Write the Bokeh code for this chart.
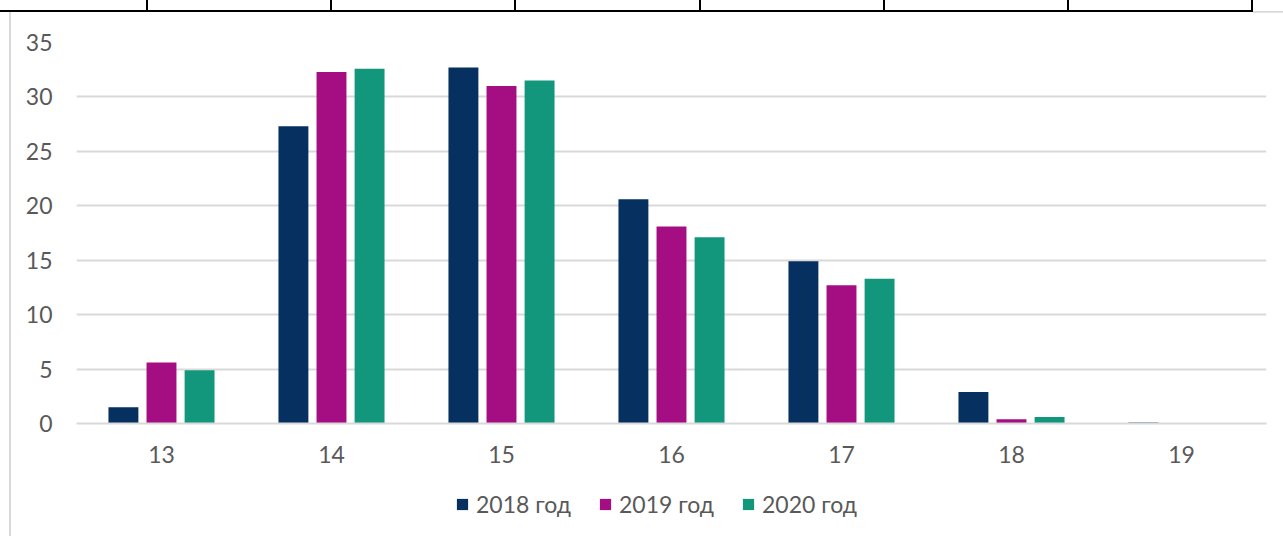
from bokeh.plotting import figure
from bokeh.models import FactorRange, Legend, LegendItem, ColumnDataSource, Div, Range1d
from bokeh.layouts import column, row
from bokeh.transform import dodge
from bokeh.embed import file_html
from bokeh.resources import INLINE

ages = ["13", "14", "15", "16", "17", "18", "19"]
series_names = ["2018 год", "2019 год", "2020 год"]
v2018 = [1.5, 27.3, 32.7, 20.6, 14.9, 2.9, 0.1]
v2019 = [5.6, 32.3, 31.0, 18.1, 12.7, 0.4, 0.0]
v2020 = [4.9, 32.6, 31.5, 17.1, 13.3, 0.6, 0.0]
colors = ["#06305f", "#a50e82", "#13977c"]
y_ticks = [0, 5, 10, 15, 20, 25, 30, 35]

FONT = "Lato"
TXT = "#595959"
FS = "23px"

src = ColumnDataSource(dict(age=ages, v2018=v2018, v2019=v2019, v2020=v2020))

W = 1272
H_MAIN = 466
H_LEG = 58
p = figure(width=W, height=H_MAIN, x_range=FactorRange(factors=ages, range_padding=0),
           y_range=(0, 35), output_backend="svg", toolbar_location=None,
           min_border_left=65, min_border_right=17, min_border_top=30, min_border_bottom=55)
p.outline_line_color = None
p.background_fill_color = "white"
p.border_fill_color = "white"

cols = ["v2018", "v2019", "v2020"]
for col, off, c in zip(cols, [-0.224, 0.0, 0.224], colors):
    p.vbar(x=dodge("age", off, range=p.x_range), top=col, width=0.176, bottom=0,
           source=src, fill_color=c, line_color=None)

p.yaxis.ticker = y_ticks
p.yaxis.axis_line_color = None
p.yaxis.major_tick_line_color = None
p.yaxis.minor_tick_line_color = None
p.yaxis.major_label_standoff = 18
p.yaxis.major_label_text_font = FONT
p.yaxis.major_label_text_font_size = FS
p.yaxis.major_label_text_color = TXT

p.xaxis.axis_line_color = "#d9d9d9"
p.xaxis.axis_line_width = 2
p.xaxis.major_tick_line_color = None
p.xaxis.minor_tick_line_color = None
p.xaxis.major_label_standoff = 16
p.xaxis.major_label_text_font = FONT
p.xaxis.major_label_text_font_size = FS
p.xaxis.major_label_text_color = TXT

p.xgrid.grid_line_color = None
p.ygrid.grid_line_color = "#d9d9d9"
p.ygrid.grid_line_width = 2

# legend strip (swatches share the series colours; renderers hold no visible mark)
nan = float("nan")
pl = figure(width=W, height=H_LEG, x_range=Range1d(0, 1), y_range=Range1d(0, 1),
            output_backend="svg", toolbar_location=None, min_border=0)
pl.axis.visible = False
pl.grid.visible = False
pl.outline_line_color = None
leg_src = ColumnDataSource(dict(l=[nan], r=[nan], b=[nan], t=[nan]))
leg_renderers = [pl.quad(left="l", right="r", bottom="b", top="t", source=leg_src,
                         fill_color=c, line_color=None)
                 for c in colors]
legend = Legend(items=[LegendItem(label=n, renderers=[r], index=0)
                       for n, r in zip(series_names, leg_renderers)],
                orientation="horizontal", location=(379, 18),
                glyph_width=14, glyph_height=14, label_standoff=7, spacing=27,
                padding=0, margin=0, border_line_color=None, background_fill_alpha=0,
                label_text_font=FONT, label_text_font_size=FS, label_text_color=TXT)
pl.add_layout(legend, "center")

# decorative table lines above the chart and chart frame on the left
vlines = "".join(
    f'<div style="position:absolute;left:{x}px;top:0;width:2px;height:12px;background:#000"></div>'
    for x in [146, 330, 514, 699, 883, 1067, 1251]
)
top_html = ('<div style="position:relative;width:1283px;height:12px;">'
            '<div style="position:absolute;left:0;top:10px;width:1253px;height:2px;background:#000"></div>'
            '<div style="position:absolute;left:1253px;top:11px;width:30px;height:2px;background:#d9d9d9"></div>'
            + vlines + '</div>')
top = Div(text=top_html, width=1283, height=12, margin=0)
left = Div(text='<div style="position:absolute;left:9px;top:0;width:2px;height:524px;background:#d9d9d9"></div>',
           width=11, height=H_MAIN + H_LEG, margin=0, styles={"position": "relative"})

layout = column(top, row(left, column(p, pl, spacing=0), spacing=0), spacing=0)
open("out.html", "w").write(file_html(layout, INLINE))
